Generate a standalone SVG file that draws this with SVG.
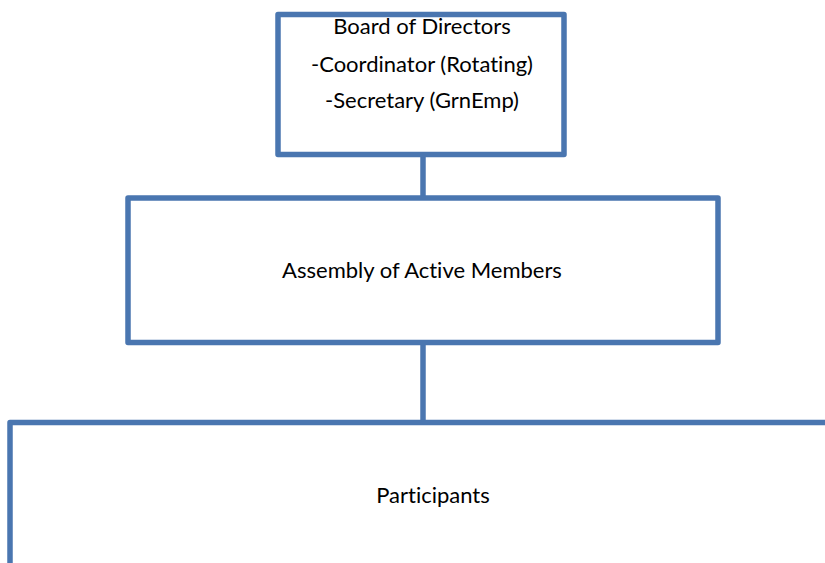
<svg xmlns="http://www.w3.org/2000/svg" width="825" height="563" viewBox="0 0 825 563">
  <style>
    .box { fill: #ffffff; stroke: #4a76b0; stroke-width: 5.5; stroke-linejoin: round; }
    .link { stroke: #4a76b0; stroke-width: 5.5; fill: none; }
    .label { font-family: Lato, "Open Sans", "Liberation Sans", sans-serif; font-size: 22px; font-variant-ligatures: none; fill: #000000; text-anchor: middle; }
  </style>
  <rect width="825" height="563" fill="#ffffff"/>
  <g id="connectors">
    <line class="link" x1="423" y1="154" x2="423" y2="198"/>
    <line class="link" x1="423" y1="342" x2="423" y2="422"/>
  </g>
  <g id="board">
    <rect class="box" x="278" y="14.5" width="286" height="140"/>
    <text class="label" x="422" y="34">Board of Directors</text>
    <text class="label" x="422" y="72">-Coordinator (Rotating)</text>
    <text class="label" x="422" y="108">-Secretary (GrnEmp)</text>
  </g>
  <g id="assembly">
    <rect class="box" x="128" y="198" width="590" height="144.5"/>
    <text class="label" x="422" y="278">Assembly of Active Members</text>
  </g>
  <g id="participants">
    <rect class="box" x="10" y="422.5" width="830" height="160"/>
    <text class="label" x="433" y="503">Participants</text>
  </g>
</svg>
